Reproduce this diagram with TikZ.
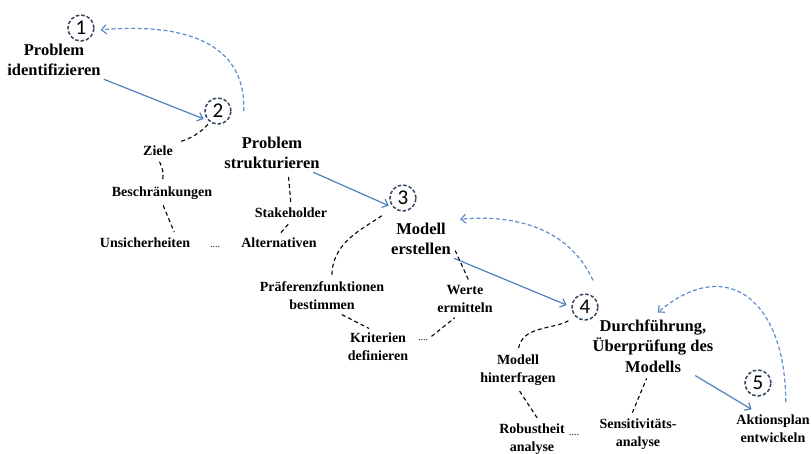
\documentclass[tikz,border=0pt]{standalone}
\usepackage{fontspec}
\setmainfont{Liberation Serif}
\newfontfamily\numfont{Carlito}
\usetikzlibrary{arrows.meta}
\definecolor{stepblue}{RGB}{79,129,189}
\definecolor{backblue}{RGB}{94,140,205}
\definecolor{ringcol}{RGB}{52,67,95}

\begin{document}
\begin{tikzpicture}[x=1pt,y=1pt,
	num/.style={circle,draw=ringcol,line width=1.5pt,dash pattern=on 3.5pt off 2pt,minimum size=26pt,inner sep=0pt,font=\numfont\fontsize{21}{21}\selectfont},
	stepbox/.style={align=center,inner sep=3pt,font=\bfseries\fontsize{16.5}{20.5}\selectfont},
	subbox/.style={align=center,inner sep=3pt,font=\bfseries\fontsize{14}{18}\selectfont},
	dotbox/.style={inner sep=1pt,font=\fontsize{10}{10}\selectfont},
	fwd/.style={draw=stepblue,line width=1.2pt,-{Straight Barb[length=5pt,width=9pt]},shorten >=5pt},
	back/.style={draw=backblue,line width=1.2pt,dash pattern=on 4pt off 2.5pt,-{Straight Barb[length=5pt,width=9pt]},shorten >=6pt},
	sublink/.style={draw=black,line width=1.1pt,dash pattern=on 4pt off 3pt,shorten <=3pt,shorten >=3pt}]
				\useasboundingbox (0,0) rectangle (811,-453);

				\node[num] (c1) at (81,-28) {1};
				\node[num] (c2) at (218,-111) {2};
				\node[num] (c3) at (403,-198) {3};
				\node[num] (c4) at (585,-307) {4};
				\node[num] (c5) at (758,-383) {5};

				\node[stepbox] (s1) at (54,-60) {Problem\\identifizieren};
				\node[stepbox] (s2) at (272,-153) {Problem\\strukturieren};
				\node[stepbox] (s3) at (421,-239) {Modell\\erstellen};
				\node[stepbox] (s4) at (653,-346) {Durchführung,\\Überprüfung des\\Modells};
				\node[subbox] (s5) at (773,-429) {Aktionsplan\\entwickeln};

				\node[subbox] (ziele) at (158,-151) {Ziele};
				\node[subbox] (beschr) at (162,-193) {Beschränkungen};
				\node[subbox] (unsich) at (145,-243) {Unsicherheiten};
				\node[dotbox] (dots2) at (215,-247) {....};
				\node[subbox] (altern) at (279,-243) {Alternativen};
				\node[subbox] (stake) at (291,-213) {Stakeholder};

				\node[subbox] (praef) at (322,-296) {Präferenzfunktionen\\bestimmen};
				\node[subbox] (kriter) at (378,-347) {Kriterien\\definieren};
				\node[dotbox] (dots3) at (423,-340) {....};
				\node[subbox] (werte) at (465,-299) {Werte\\ermitteln};

				\node[subbox] (hinter) at (518,-370) {Modell\\hinterfragen};
				\node[subbox] (robust) at (532,-439) {Robustheit\\analyse};
				\node[dotbox] (dots4) at (574,-435) {....};
				\node[subbox] (sensi) at (638,-434) {Sensitivitäts-\\analyse};

				\coordinate (b2) at ([xshift=12pt]c2.east);
				\coordinate (b4) at ([shift={(8pt,13pt)}]c4.north);
				\coordinate (b5) at ([shift={(14pt,-19pt)}]c5.east);

				\draw[fwd] (s1.south east) -- (c2.225);
				\draw[fwd] (s2.-25) -- (c3.225);
				\draw[fwd] (s3.south east) -- (c4.west);
				\draw[fwd] (s4.-35) -- (s5.135);

				\draw[back] (b2) to[out=88,in=5,looseness=1.15] (c1.-10);
				\draw[back] (b4) to[out=115,in=5] (s3.north east);
				\draw[back] (b5) to[out=90,in=40,looseness=1.6] (s4.north);

				\draw[sublink] (c2.235) to[bend left=15] (ziele.north east);
				\draw[sublink] (ziele.south) to[bend left=20] (beschr.north);
				\draw[sublink] (beschr.south) -- (unsich.15);
				\draw[sublink] (altern.north) -- (stake.south);
				\draw[sublink] (stake.north) -- (s2.-50);

				\draw[sublink,shorten <=14pt] (c3.south west) to[out=215,in=90] (praef.60);
				\draw[sublink] (praef.-45) -- (kriter.110);
				\draw[sublink] (dots3.north east) -- (werte.-115);
				\draw[sublink] (werte.75) -- (s3.-15);

				\draw[sublink,shorten <=8pt] (c4.south west) to[out=210,in=80] (hinter.north);
				\draw[sublink] (hinter.south) -- (robust.70);
				\draw[sublink] (sensi.110) -- (s4.-100);
			\end{tikzpicture}
\end{document}
